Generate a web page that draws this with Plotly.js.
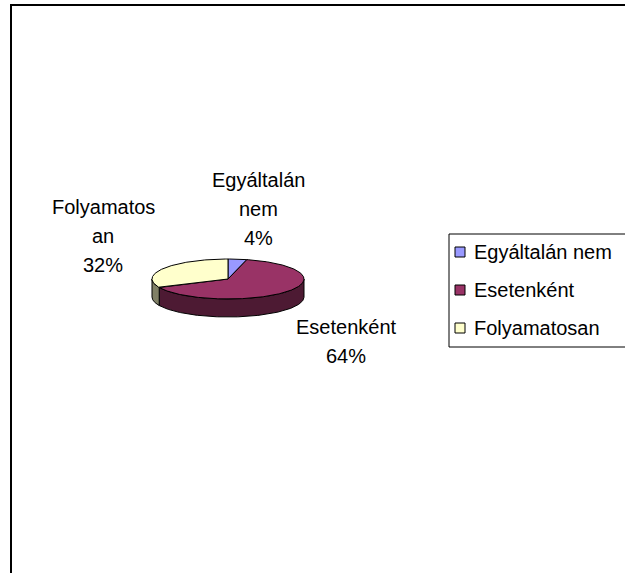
<!DOCTYPE html>
<html><head><meta charset="utf-8">
<script src="https://cdn.plot.ly/plotly-3.0.1.min.js"></script>
<style>html,body{margin:0;padding:0;background:#fff;overflow:hidden}#chart{width:625px;height:573px}</style>
</head><body><div id="chart"></div>
<script>
// ---- data ----
const categories = ["Egyáltalán nem", "Esetenként", "Folyamatosan"];
const values = [4, 64, 32];
const labelLines = [["Egyáltalán", "nem"], ["Esetenként"], ["Folyamatos", "an"]];

// ---- styles / layout constants ----
const topColors = ["#9999FF", "#993366", "#FFFFCC"];
const sideColors = ["#4D4D80", "#4D1A33", "#808066"];
const W = 625, H = 573;
const pie = {cx: 228, cy: 279, rx: 76, ry: 20, depth: 18};
const labelPos = [{x: 258, y: 180}, {x: 346, y: 327}, {x: 103, y: 207}];
const lineGap = 29;
const FONT = "Liberation Sans, Arial, sans-serif";
const legendBox = {x0: 449, y0: 234, y1: 347};

const total = values.reduce((a, b) => a + b, 0);
const sides = [], tops = [], annotations = [];
function pt(theta, dy) {
  const t = theta * Math.PI / 180;
  return [pie.cx + pie.rx * Math.sin(t), pie.cy - pie.ry * Math.cos(t) + (dy || 0)];
}
let acc = 0;
values.forEach((v, i) => {
  const a0 = acc / total * 360, a1 = (acc + v) / total * 360;
  acc += v;
  const xs = [pie.cx], ys = [pie.cy];
  const n = Math.max(2, Math.ceil(a1 - a0));
  for (let k = 0; k <= n; k++) {
    const p = pt(a0 + (a1 - a0) * k / n);
    xs.push(p[0]); ys.push(p[1]);
  }
  xs.push(pie.cx); ys.push(pie.cy);
  tops.push({type: 'scatter', mode: 'lines', x: xs, y: ys, fill: 'toself',
    fillcolor: topColors[i], line: {color: '#000', width: 1}, hoverinfo: 'skip', showlegend: false});
  const s0 = Math.max(a0, 90), s1 = Math.min(a1, 270);
  if (s1 > s0) {
    const sx = [], sy = [];
    const m = Math.max(2, Math.ceil(s1 - s0));
    for (let k = 0; k <= m; k++) { const p = pt(s0 + (s1 - s0) * k / m); sx.push(p[0]); sy.push(p[1]); }
    for (let k = m; k >= 0; k--) { const p = pt(s0 + (s1 - s0) * k / m, pie.depth); sx.push(p[0]); sy.push(p[1]); }
    sx.push(sx[0]); sy.push(sy[0]);
    sides.push({type: 'scatter', mode: 'lines', x: sx, y: sy, fill: 'toself',
      fillcolor: sideColors[i], line: {color: '#000', width: 1}, hoverinfo: 'skip', showlegend: false});
  }
  const pct = Math.round(v / total * 100) + '%';
  const lines = labelLines[i].concat([pct]);
  lines.forEach((txt, j) => {
    annotations.push({xref: 'x', yref: 'y', x: labelPos[i].x, y: labelPos[i].y + j * lineGap,
      text: txt, showarrow: false, xanchor: 'center', yanchor: 'middle',
      font: {family: FONT, size: 20, color: '#000'}});
  });
});

const legendTrace = {type: 'scatter', mode: 'markers', xaxis: 'x2', yaxis: 'y2',
  x: categories.map(() => 11), y: categories,
  marker: {symbol: 'square', size: 10, color: topColors, line: {color: '#000', width: 1}},
  hoverinfo: 'skip', showlegend: false};
categories.forEach(c => {
  annotations.push({xref: 'x2', yref: 'y2', x: 23, y: c, text: c, showarrow: false,
    xanchor: 'left', yanchor: 'middle', font: {family: FONT, size: 20, color: '#000'}});
});

function pline(x0, y0, x1, y1, w, col) {
  return {type: 'line', xref: 'paper', yref: 'paper', x0: x0 / W, x1: x1 / W,
    y0: 1 - y0 / H, y1: 1 - y1 / H, line: {color: col, width: w}, layer: 'above'};
}

const layout = {
  width: W, height: H, margin: {l: 0, r: 0, t: 0, b: 0},
  paper_bgcolor: '#fff', plot_bgcolor: 'rgba(0,0,0,0)', showlegend: false,
  font: {family: FONT, size: 20, color: '#000'},
  xaxis: {range: [0, W], visible: false, fixedrange: true, domain: [0, 1]},
  yaxis: {range: [H, 0], visible: false, fixedrange: true, domain: [0, 1]},
  xaxis2: {domain: [legendBox.x0 / W, 1], range: [0, W - legendBox.x0], visible: false, anchor: 'y2', fixedrange: true},
  yaxis2: {domain: [1 - legendBox.y1 / H, 1 - legendBox.y0 / H], type: 'category',
    categoryorder: 'array', categoryarray: categories,
    range: [2.5, -0.474], visible: false, anchor: 'x2', fixedrange: true},
  annotations: annotations,
  shapes: [
    pline(11, 5, 11, H, 2, '#000'),
    pline(10, 5, W, 5, 2, '#000'),
    pline(legendBox.x0, legendBox.y0, legendBox.x0, legendBox.y1, 1, '#000'),
    pline(legendBox.x0, legendBox.y0, W, legendBox.y0, 1, '#000'),
    pline(legendBox.x0, legendBox.y1, W, legendBox.y1, 1, '#000')
  ]
};

Plotly.newPlot('chart', sides.concat(tops).concat([legendTrace]), layout, {displayModeBar: false, staticPlot: true});
</script>
</body></html>
